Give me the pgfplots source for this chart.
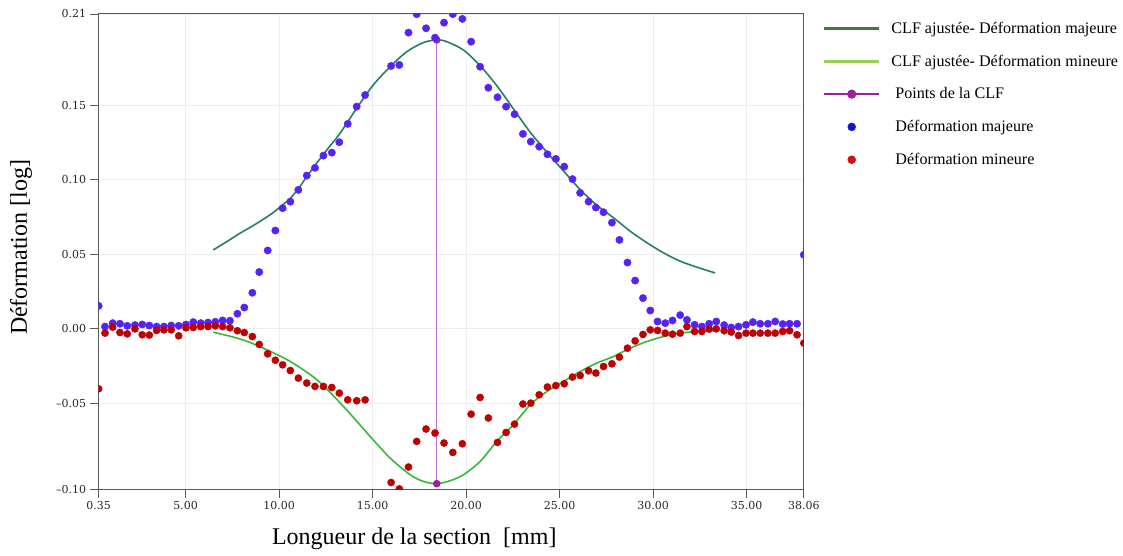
\documentclass[border=0pt]{standalone}
\usepackage{pgfplots}
\pgfplotsset{compat=1.18}
\usepackage{fontspec}
\setmainfont{Liberation Serif}
\newfontfamily\tickfont{DejaVu Serif}
\definecolor{bluep}{RGB}{85,35,250}
\definecolor{redp}{RGB}{190,0,0}
\definecolor{majc}{RGB}{40,125,105}
\definecolor{minc}{RGB}{55,185,55}
\definecolor{clfl}{RGB}{190,110,210}
\definecolor{clfd}{RGB}{160,30,160}
\definecolor{legmaj}{RGB}{70,120,60}
\definecolor{legmin}{RGB}{155,205,80}
\definecolor{legblue}{RGB}{20,20,210}
\definecolor{legred}{RGB}{210,15,15}
\begin{document}
\begin{tikzpicture}
\begin{axis}[
  scale only axis, width=705.5pt, height=475.3pt,
  xmin=0.35, xmax=38.06, ymin=-0.1076, ymax=0.2114,
  clip marker paths=true,
  xtick={0.35,5,10,15,20,25,30,35,38.06},
  xticklabels={0.35,5.00,10.00,15.00,20.00,25.00,30.00,35.00,38.06},
  ytick={-0.1076,-0.05,0,0.05,0.1,0.15,0.2114},
  yticklabels={\textendash0.10,\textendash0.05,0.00,0.05,0.10,0.15,0.21},
  xtick pos=bottom, ytick pos=left,
  tick align=outside, major tick length=9pt,
  tick label style={font=\tickfont\fontsize{11}{13}\selectfont, text=black!85},
  grid=major, major grid style={gray!13, line width=0.8pt},
  axis line style={black!65, line width=1pt},
  tick style={black!65, line width=0.8pt},
  xlabel={Longueur de la section\ \ [mm]},
  ylabel={Déformation [log]},
  label style={font=\fontsize{24}{28}\selectfont},
  xlabel style={at={(rel axis cs:0.4476,-0.1046)}, anchor=center},
  ylabel style={at={(rel axis cs:-0.1101,0.5087)}, anchor=center, rotate=0},
  legend style={at={(rel axis cs:1,1)}, anchor=north west, xshift=16pt, yshift=-4pt,
    draw=none, fill=none, font=\fontsize{16.1}{19}\selectfont, row sep=16pt, column sep=9pt},
  legend cell align=left,
]
\addplot[majc, line width=1.6pt, smooth,
  legend image code/.code={\draw[legmaj, line width=2.5pt] (0pt,0pt) -- (55pt,0pt);}]
  coordinates {
  (6.48,0.0530) (7.20,0.0585) (7.91,0.0642) (8.55,0.0688) (9.16,0.0736) (9.70,0.0782)
  (10.19,0.0832) (10.55,0.0870) (11.03,0.0940) (11.48,0.1022) (12.37,0.1172) (13.26,0.1313)
  (14.15,0.1481) (15.04,0.1638) (15.94,0.1760) (16.83,0.1861) (17.72,0.1922) (18.43,0.1940)
  (18.97,0.1928) (19.86,0.1872) (20.75,0.1767) (21.64,0.1633) (22.53,0.1477) (23.43,0.1320)
  (24.32,0.1186) (25.21,0.1060) (26.10,0.0935) (26.99,0.0830) (27.88,0.0746) (28.77,0.0656)
  (29.67,0.0578) (30.56,0.0510) (31.45,0.0454) (32.34,0.0414) (33.32,0.0375)
  };
\addlegendentry{CLF ajustée- Déformation majeure}
\addplot[minc, line width=1.6pt, smooth,
  legend image code/.code={\draw[legmin, line width=2.5pt] (0pt,0pt) -- (55pt,0pt);}]
  coordinates {
  (6.48,-0.0023) (7.91,-0.0068) (9.16,-0.0130) (10.59,-0.0219) (12.02,-0.0342) (13.44,-0.0521)
  (14.87,-0.0723) (15.94,-0.0868) (17.01,-0.0980) (17.72,-0.1025) (18.43,-0.1040) (19.15,-0.1020)
  (19.86,-0.0980) (20.75,-0.0891) (21.64,-0.0756) (22.53,-0.0644) (23.43,-0.0510) (24.32,-0.0421)
  (25.21,-0.0354) (26.10,-0.0287) (26.99,-0.0230) (27.88,-0.0186) (28.77,-0.0130) (29.67,-0.0085)
  (30.56,-0.0052) (31.45,-0.0029) (32.34,-0.0018) (33.32,-0.0013)
  };
\addlegendentry{CLF ajustée- Déformation mineure}
\addplot[clfl, line width=1.2pt, mark=*, mark size=3.2pt, mark options={fill=clfd, draw=clfd},
  legend image code/.code={\draw[clfd, line width=2pt] (0pt,0pt) -- (55pt,0pt);
     \fill[clfd] (27.5pt,0pt) circle (4pt);}]
  coordinates {(18.43,-0.1040) (18.43,0.1940)};
\addlegendentry{\ Points de la CLF}
\addplot[only marks, mark=*, mark size=3.7pt, color=bluep,
  legend image code/.code={\fill[legblue] (27.5pt,0pt) circle (4pt);}]
  coordinates {
  (0.35,0.0154) (0.69,0.0015) (1.10,0.0038) (1.49,0.0034) (1.88,0.0020) (2.29,0.0025)
  (2.68,0.0029) (3.06,0.0022) (3.45,0.0015) (3.84,0.0015) (4.23,0.0022) (4.63,0.0020)
  (5.02,0.0029) (5.41,0.0045) (5.81,0.0038) (6.20,0.0042) (6.59,0.0047) (6.98,0.0056)
  (7.37,0.0054) (7.77,0.0101) (8.14,0.0143) (8.57,0.0242) (8.94,0.0381) (9.39,0.0526)
  (9.80,0.0660) (10.19,0.0810) (10.60,0.0854) (11.03,0.0933) (11.48,0.1029) (11.92,0.1081)
  (12.37,0.1163) (12.82,0.1183) (13.22,0.1253) (13.67,0.1376) (14.15,0.1492) (14.60,0.1570)
  (15.99,0.1765) (16.43,0.1772) (16.92,0.1989) (17.36,0.2113) (17.86,0.2018) (18.34,0.1955)
  (18.82,0.2056) (19.29,0.2113) (19.80,0.2081) (20.27,0.1928) (20.75,0.1760) (21.19,0.1619)
  (21.68,0.1555) (22.14,0.1492) (22.59,0.1441) (23.04,0.1309) (23.46,0.1257) (23.91,0.1223)
  (24.35,0.1172) (24.80,0.1141) (25.25,0.1089) (25.69,0.1005) (26.10,0.0913) (26.55,0.0854)
  (26.94,0.0814) (27.35,0.0783) (27.80,0.0713) (28.20,0.0597) (28.63,0.0445) (29.04,0.0324)
  (29.46,0.0206) (29.85,0.0123) (30.24,0.0049) (30.65,0.0038) (31.04,0.0056) (31.45,0.0092)
  (31.81,0.0060) (32.22,0.0027) (32.61,0.0015) (33.00,0.0034) (33.38,0.0049) (33.80,0.0025)
  (34.18,0.0009) (34.57,0.0015) (34.97,0.0027) (35.34,0.0045) (35.73,0.0034) (36.14,0.0034)
  (36.53,0.0049) (36.93,0.0032) (37.30,0.0034) (37.70,0.0034) (38.06,0.0497)
  };
\addlegendentry{\ Déformation majeure}
\addplot[only marks, mark=*, mark size=3.6pt, color=redp,
  legend image code/.code={\fill[legred] (27.5pt,0pt) circle (4pt);}]
  coordinates {
  (0.35,-0.0403) (0.69,-0.0029) (1.10,0.0011) (1.49,-0.0025) (1.88,-0.0034) (2.29,0.0000)
  (2.68,-0.0040) (3.06,-0.0042) (3.45,-0.0011) (3.84,-0.0007) (4.23,-0.0007) (4.63,-0.0047)
  (5.02,0.0007) (5.41,0.0009) (5.81,0.0015) (6.20,0.0015) (6.59,0.0020) (6.98,0.0015)
  (7.37,0.0007) (7.77,-0.0013) (8.14,-0.0025) (8.57,-0.0052) (8.94,-0.0105) (9.39,-0.0168)
  (9.80,-0.0211) (10.19,-0.0242) (10.60,-0.0280) (11.03,-0.0331) (11.48,-0.0364) (11.92,-0.0387)
  (12.37,-0.0387) (12.82,-0.0394) (13.22,-0.0432) (13.67,-0.0477) (14.15,-0.0483) (14.60,-0.0477)
  (15.99,-0.1032) (16.43,-0.1075) (16.92,-0.0928) (17.36,-0.0756) (17.86,-0.0673) (18.34,-0.0700)
  (18.82,-0.0767) (19.29,-0.0830) (19.80,-0.0772) (20.27,-0.0573) (20.75,-0.0461) (21.19,-0.0599)
  (21.68,-0.0763) (22.14,-0.0696) (22.59,-0.0640) (23.04,-0.0505) (23.46,-0.0499) (23.91,-0.0443)
  (24.35,-0.0391) (24.80,-0.0381) (25.25,-0.0369) (25.69,-0.0324) (26.10,-0.0313) (26.55,-0.0282)
  (26.94,-0.0297) (27.35,-0.0253) (27.80,-0.0235) (28.20,-0.0190) (28.63,-0.0130) (29.04,-0.0081)
  (29.46,-0.0038) (29.85,-0.0007) (30.24,-0.0011) (30.65,-0.0029) (31.04,-0.0036) (31.45,-0.0029)
  (31.81,0.0015) (32.22,-0.0018) (32.61,-0.0018) (33.00,-0.0002) (33.38,0.0000) (33.80,-0.0013)
  (34.18,-0.0022) (34.57,-0.0045) (34.97,-0.0029) (35.34,-0.0029) (35.73,-0.0029) (36.14,-0.0029)
  (36.53,-0.0029) (36.93,-0.0018) (37.30,-0.0013) (37.70,-0.0040) (38.06,-0.0096)
  };
\addlegendentry{\ Déformation mineure}
\coordinate (SW) at (rel axis cs:0,0);
\end{axis}
\path (SW) ++(-98.7pt,-66.7pt) rectangle ++(1123pt,556pt);
\end{tikzpicture}
\end{document}
